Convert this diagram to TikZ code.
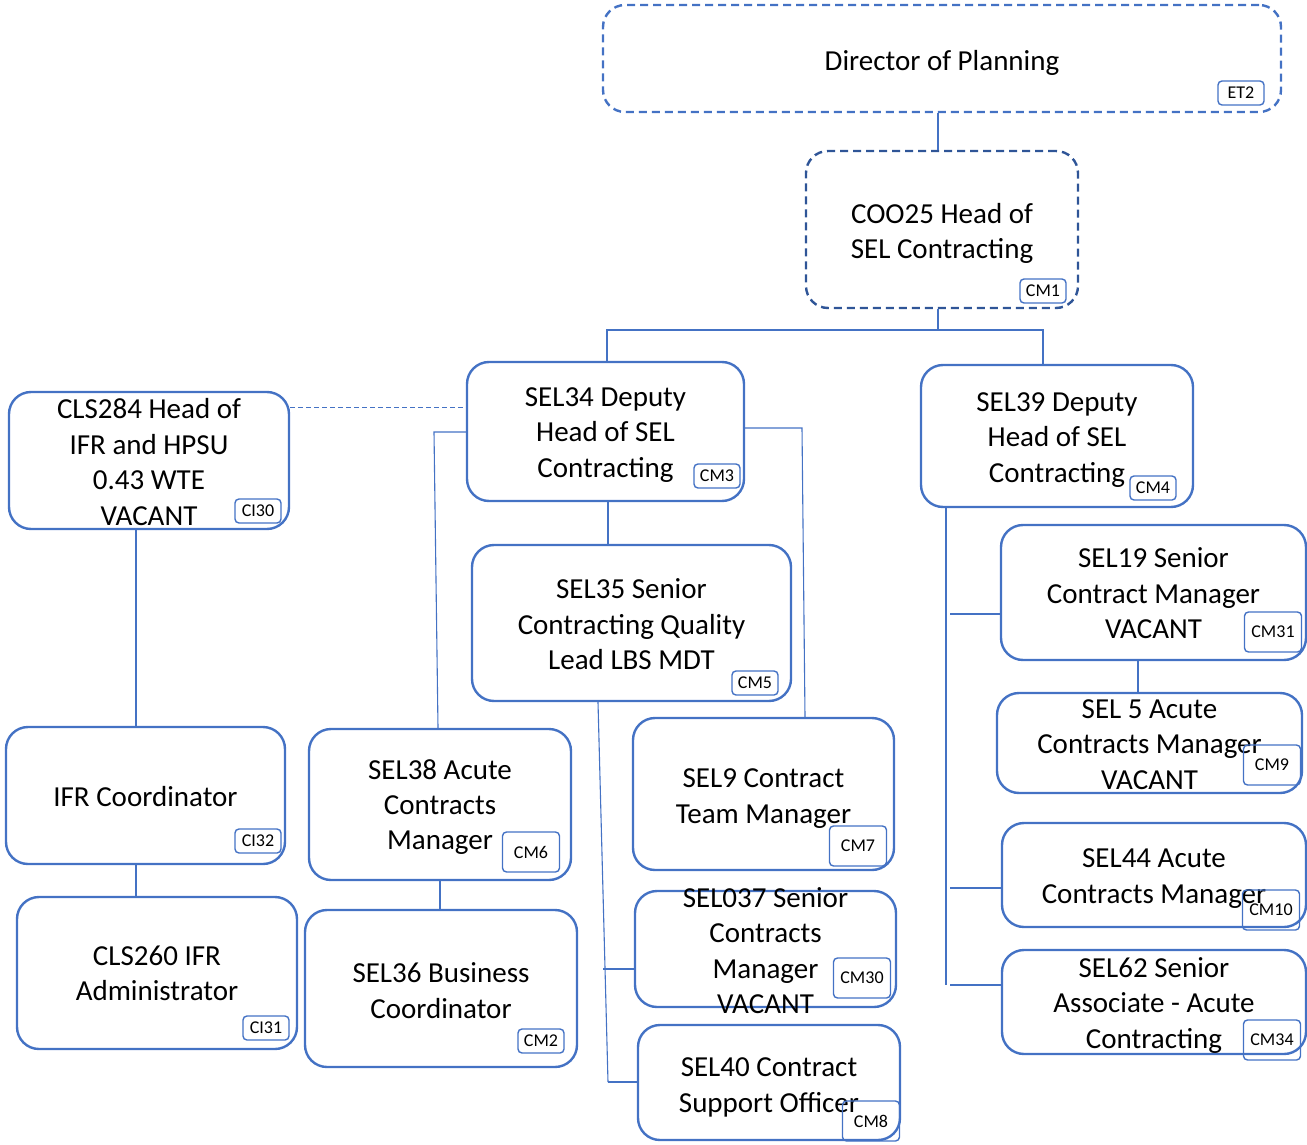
\documentclass[tikz,border=0pt]{standalone}
\usepackage{fontspec}
\setmainfont{Carlito}
\usetikzlibrary{calc}
\definecolor{boxblue}{HTML}{4472C4}
\definecolor{darkblue}{HTML}{2F5597}
\tikzset{
  orgbox/.style={draw=boxblue, line width=2.4pt, rounded corners=22pt, inner sep=0pt},
  dashbox/.style={orgbox, dash pattern=on 8pt off 5pt},
  txt/.style={align=center, inner sep=0pt, font=\fontsize{29}{35.4}\selectfont},
  tag/.style={draw=boxblue, line width=1.4pt, rounded corners=4pt, inner sep=0pt, font=\fontsize{18}{18}\selectfont},
  smalltag/.style={tag, minimum width=46pt, minimum height=24pt},
  bigtag/.style={tag, minimum width=57pt, minimum height=40pt},
  conn/.style={draw=boxblue, line width=1.1pt},
}
\begin{document}
\begin{tikzpicture}[x=1pt,y=-1pt]
\useasboundingbox (0,0) rectangle (1307,1145);
% boxes
\node[dashbox, minimum width=678pt, minimum height=107pt] (dir) at (942,58.5) {};
\node[dashbox, draw=darkblue, minimum width=272pt, minimum height=157pt] (coo) at (942,229.5) {};
\node[orgbox, minimum width=277pt, minimum height=139pt] (sel34) at (605.5,431.5) {};
\node[orgbox, minimum width=272pt, minimum height=142pt] (sel39) at (1057,436) {};
\node[orgbox, minimum width=280pt, minimum height=137pt] (cls284) at (149,460.5) {};
\node[orgbox, minimum width=319pt, minimum height=156pt] (sel35) at (631.5,623) {};
\node[orgbox, minimum width=305pt, minimum height=135pt] (sel19) at (1153.5,592.5) {};
\node[orgbox, minimum width=305pt, minimum height=100pt] (sel5) at (1149.5,743) {};
\node[orgbox, minimum width=304pt, minimum height=104pt] (sel44) at (1154,875) {};
\node[orgbox, minimum width=304pt, minimum height=104pt] (sel62) at (1154,1002) {};
\node[orgbox, minimum width=279pt, minimum height=137pt] (ifr) at (145.5,795.5) {};
\node[orgbox, minimum width=280pt, minimum height=152pt] (cls260) at (157,973) {};
\node[orgbox, minimum width=262pt, minimum height=151pt] (sel38) at (440,804.5) {};
\node[orgbox, minimum width=272pt, minimum height=157pt] (sel36) at (441,988.5) {};
\node[orgbox, minimum width=261pt, minimum height=152pt] (sel9) at (763.5,794) {};
\node[orgbox, minimum width=261pt, minimum height=116pt] (sel037) at (765.5,949) {};
\node[orgbox, minimum width=262pt, minimum height=115pt] (sel40) at (769,1082.5) {};
% texts
\node[txt] (tdir) at ([yshift=-4.5pt]dir.center) {Director of Planning};
\node[txt] (tcoo) at ([yshift=-4pt]coo.center) {COO25 Head of\\SEL Contracting};
\node[txt] (tsel34) at ([yshift=-3.5pt]sel34.center) {SEL34 Deputy\\Head of SEL\\Contracting};
\node[txt] (tsel39) at ([yshift=-4pt]sel39.center) {SEL39 Deputy\\Head of SEL\\Contracting};
\node[txt] (tcls284) at ([yshift=-1.5pt]cls284.center) {CLS284 Head of\\IFR and HPSU\\0.43 WTE\\VACANT};
\node[txt] (tsel35) at ([yshift=-1.5pt]sel35.center) {SEL35 Senior\\Contracting Quality\\Lead LBS MDT};
\node[txt] (tsel19) at ([yshift=-1pt]sel19.center) {SEL19 Senior\\Contract Manager\\VACANT};
\node[txt] (tsel5) at ([yshift=-1.5pt]sel5.center) {SEL 5 Acute\\Contracts Manager\\VACANT};
\node[txt] (tsel44) at ([yshift=-3.5pt]sel44.center) {SEL44 Acute\\Contracts Manager};
\node[txt] (tsel62) at ([yshift=-3.5pt]sel62.center) {SEL62 Senior\\Associate - Acute\\Contracting};
\node[txt] (tifr) at ([yshift=-1.5pt]ifr.center) {IFR Coordinator};
\node[txt] (tcls260) at ([yshift=-0.5pt]cls260.center) {CLS260 IFR\\Administrator};
\node[txt] (tsel38) at ([yshift=-2.5pt]sel38.center) {SEL38 Acute\\Contracts\\Manager};
\node[txt] (tsel36) at ([yshift=-2pt]sel36.center) {SEL36 Business\\Coordinator};
\node[txt] (tsel9) at ([yshift=-4.5pt]sel9.center) {SEL9 Contract\\Team Manager};
\node[txt] (tsel037) at ([yshift=-1.5pt]sel037.center) {SEL037 Senior\\Contracts\\Manager\\VACANT};
\node[txt] (tsel40) at ([yshift=-5pt]sel40.center) {SEL40 Contract\\Support Officer};
% tags
\node[smalltag] (gdir) at (1241,93) {ET2};
\node[smalltag] (gcoo) at (1043,291) {CM1};
\node[smalltag] (gsel34) at (717,476) {CM3};
\node[smalltag] (gsel39) at (1153,488) {CM4};
\node[smalltag] (gcls284) at (258,511) {CI30};
\node[smalltag] (gsel35) at (755,683) {CM5};
\node[smalltag] (gifr) at (258,841) {CI32};
\node[smalltag] (gcls260) at (266,1028) {CI31};
\node[smalltag] (gsel36) at (541,1041) {CM2};
\node[bigtag] (gsel38) at (531,852) {CM6};
\node[bigtag] (gsel9) at (858,846) {CM7};
\node[bigtag] (gsel037) at (862,978) {CM30};
\node[bigtag] (gsel40) at (871,1121) {CM8};
\node[bigtag] (gsel19) at (1273,632) {CM31};
\node[bigtag] (gsel5) at (1272,765) {CM9};
\node[bigtag] (gsel44) at (1271,910) {CM10};
\node[bigtag] (gsel62) at (1272,1040) {CM34};
% connectors
\coordinate (j0) at (938,330);
\draw[conn] (dir.south -| j0) -- (coo.north -| j0);
\draw[conn] (coo.south -| j0) -- (j0);
\draw[conn] (sel34.north -| 607,0) |- (j0) -| (sel39.north -| 1043,0);
\draw[conn, line width=1pt, dash pattern=on 5pt off 3pt] (cls284.east |- 0,407) -- (sel34.west |- 0,407);
\draw[conn] (sel34.west |- 0,432) -- (434,432) -- (sel38.north -| 438,0);
\draw[conn] (sel34.east |- 0,428) -- (802,428) -- (sel9.north -| 805,0);
\draw[conn] (sel34.south -| 608,0) -- (sel35.north -| 608,0);
\coordinate (j1) at (608,1082);
\draw[conn] (sel35.south -| 598,0) -- (j1);
\draw[conn] (603,969) -- (sel037.west |- 0,969);
\draw[conn] (j1) -- (sel40.west |- j1);
\draw[conn] (cls284.south -| 136,0) -- (ifr.north -| 136,0);
\draw[conn] (ifr.south -| 136,0) -- (cls260.north -| 136,0);
\draw[conn] (sel38.south -| 440,0) -- (sel36.north -| 440,0);
\coordinate (j2) at (946,985);
\draw[conn] (sel39.south -| j2) -- (j2);
\draw[conn] (950,614) -- (sel19.west |- 0,614);
\draw[conn] (950,888) -- (sel44.west |- 0,888);
\draw[conn] (950,985) -- (sel62.west |- 0,985);
\draw[conn] (sel19.south -| 1138,0) -- (sel5.north -| 1138,0);
\end{tikzpicture}
\end{document}
